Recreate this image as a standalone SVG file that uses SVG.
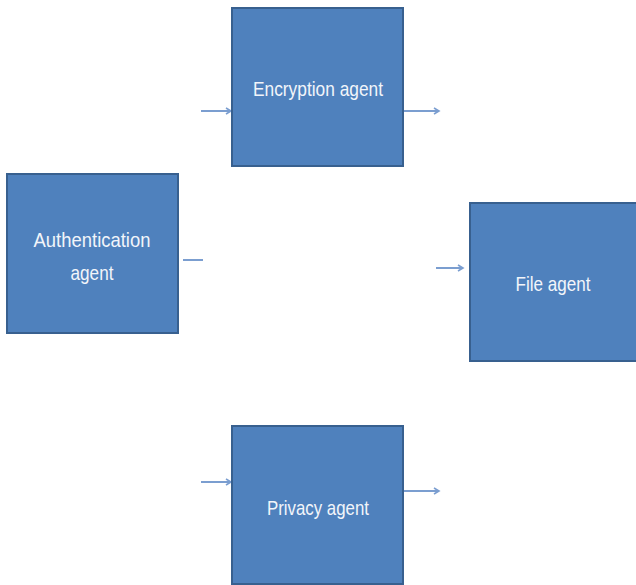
<svg xmlns="http://www.w3.org/2000/svg" width="636" height="585" viewBox="0 0 636 585">
<style>
.box{fill:#4F81BD;stroke:#38608f;stroke-width:2}
.lbl{font-family:"Liberation Sans",Arial,sans-serif;font-size:21px;fill:#f2f5fa;text-anchor:middle}
.c{stroke:#7b9ed0;stroke-width:2;fill:none}
</style>
<defs>
<marker id="ah" markerWidth="8" markerHeight="8" refX="6" refY="4" orient="auto" markerUnits="userSpaceOnUse">
<path d="M1,1 L6,4 L1,7" fill="none" stroke="#7b9ed0" stroke-width="1.6"/>
</marker>
</defs>
<rect width="636" height="585" fill="#ffffff"/>
<g id="connectors">
<line class="c" x1="201" y1="111" x2="231" y2="111" marker-end="url(#ah)"/>
<line class="c" x1="404" y1="111" x2="439" y2="111" marker-end="url(#ah)"/>
<line class="c" x1="183" y1="260" x2="203" y2="260"/>
<line class="c" x1="436" y1="268" x2="463" y2="268" marker-end="url(#ah)"/>
<line class="c" x1="201" y1="482" x2="231" y2="482" marker-end="url(#ah)"/>
<line class="c" x1="404" y1="491" x2="439" y2="491" marker-end="url(#ah)"/>
</g>
<g id="encryption">
<rect class="box" x="232" y="8" width="171" height="158"/>
<text class="lbl" x="318" y="96" textLength="130" lengthAdjust="spacingAndGlyphs">Encryption agent</text>
</g>
<g id="authentication">
<rect class="box" x="7" y="174" width="171" height="159"/>
<text class="lbl" x="92" y="247" textLength="117" lengthAdjust="spacingAndGlyphs">Authentication</text>
<text class="lbl" x="92" y="280" textLength="43" lengthAdjust="spacingAndGlyphs">agent</text>
</g>
<g id="file">
<rect class="box" x="470" y="203" width="167" height="158"/>
<text class="lbl" x="553" y="291" textLength="75" lengthAdjust="spacingAndGlyphs">File agent</text>
</g>
<g id="privacy">
<rect class="box" x="232" y="426" width="171" height="158"/>
<text class="lbl" x="318" y="515" textLength="102" lengthAdjust="spacingAndGlyphs">Privacy agent</text>
</g>
</svg>
